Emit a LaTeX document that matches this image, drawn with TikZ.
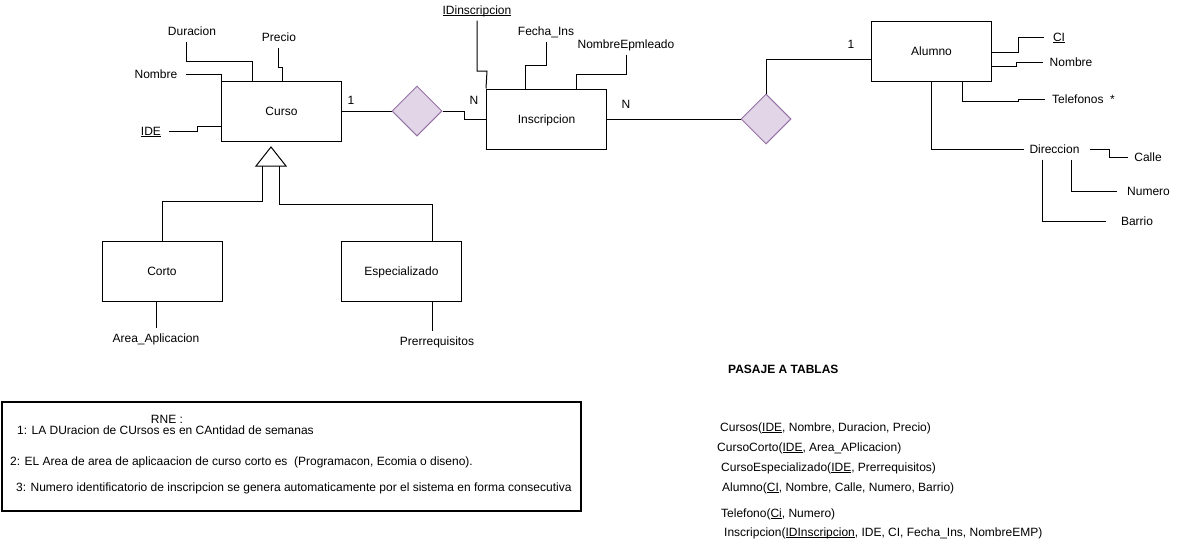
\documentclass[tikz,border=0pt]{standalone}
\usepackage{fontspec}
\setmainfont{Liberation Sans}
\usetikzlibrary{shapes.geometric}

\definecolor{relfill}{HTML}{E1D5E7}
\definecolor{reldraw}{HTML}{9673A6}
\newcommand{\keyattr}[1]{\setbox0\hbox{#1}\rlap{\rule[-1.8pt]{\wd0}{0.8pt}}\box0}
\tikzset{
  entity/.style={draw,line width=1pt,minimum width=120pt,minimum height=60pt,inner sep=0pt,text height=8.6pt,text depth=0pt},
  relation/.style={diamond,draw=reldraw,fill=relfill,line width=1pt,minimum width=50pt,minimum height=50pt,inner sep=0pt},
  attr/.style={inner xsep=3pt,inner ysep=6pt,text height=8.6pt,text depth=0pt},
  card/.style={inner sep=0pt,text height=8.6pt,text depth=0pt},
  note/.style={anchor=west,inner sep=0pt,text height=8.6pt,text depth=0pt},
  link/.style={line width=1pt},
}

\begin{document}
\begin{tikzpicture}[x=1pt,y=-1pt,font=\fontsize{12}{14}\selectfont]
  \useasboundingbox (0,0) rectangle (1179,542);

  % entities and relations
  \node [entity] (curso) at (281.5,111) {Curso};
  \node [entity] (insc) at (546.5,119) {Inscripcion};
  \node [entity] (alumno) at (931.5,51) {Alumno};
  \node [entity] (corto) at (162,271) {Corto};
  \node [entity] (espec) at (401.5,271) {Especializado};
  \node [relation] (rel1) at (417,111) {};
  \node [relation] (rel2) at (766,119) {};

  \draw [link] (curso.east) -- (rel1.west);
  \draw [link] (rel1.east) -- (464,111) |- (insc.west);
  \draw [link] (insc.east) -- (rel2.west);
  \draw [link] (rel2.north) |- (alumno.west |- 0,59);
  \node [card] (c1) at (351,100) {1};
  \node [card] (c2) at (474,100) {N};
  \node [card] (c3) at (626,104) {N};
  \node [card] (c4) at (851,44) {1};

  % Curso attributes
  \node [attr] (durac) at (192,31) {Duracion};
  \node [attr] (precio) at (279,37) {Precio};
  \node [attr] (nomcur) at (156,74) {Nombre};
  \node [attr] (ide) at (151,131) {\keyattr{IDE}};
  \draw [link] (durac.south -| 186,0) |- (252,61) -- (curso.north -| 252,0);
  \draw [link] (precio.south -| 278,0) |- (282,67) -- (curso.north -| 282,0);
  \draw [link] ([xshift=5pt]nomcur.east) -| (curso.north west);
  \draw [link] ([xshift=5pt]ide.east) -- (197,131) |- (curso.west |- 0,126);

  % Inscripcion attributes
  \node [attr] (idins) at (477,10) {\keyattr{IDinscripcion}};
  \node [attr] (fecha) at (546,31) {Fecha\_Ins};
  \node [attr] (nomemp) at (626,44) {NombreEpmleado};
  \draw [link] (idins.south) |- (487,71) -- (insc.north west);
  \draw [link] (fecha.south) |- (525,65) -- (insc.north -| 525,0);
  \draw [link] (nomemp.south) |- (576,74) -- (insc.north -| 576,0);

  % Alumno attributes
  \node [attr] (ci) at (1059,37) {\keyattr{CI}};
  \node [attr] (nomal) at (1071,62) {Nombre};
  \node [attr,anchor=west] (tel) at (1049,99) {Telefonos~~*};
  \node [attr] (dir) at (1054.5,149) {Direccion};
  \node [attr] (calle) at (1148,157) {Calle};
  \node [attr] (numero) at (1148.5,191) {Numero};
  \node [attr] (barrio) at (1137,221) {Barrio};
  \draw [link] (alumno.east |- 0,52) -| (1018,37) -- ([xshift=-6pt]ci.west);
  \draw [link] (alumno.east |- 0,66) -| (1016,62) -- ([xshift=-3pt]nomal.west);
  \draw [link] (alumno.south -| 962,0) |- (1018,101) |- ([xshift=-4pt]tel.west);
  \draw [link] (alumno.south) |- ([xshift=-2pt]dir.west);
  \draw [link] ([xshift=7pt]dir.east) -- (1109,149) |- ([xshift=-3pt]calle.west);
  \draw [link] (dir.south -| 1071,0) |- ([xshift=-7pt]numero.west);
  \draw [link] (dir.south -| 1042,0) |- ([xshift=-12pt]barrio.west);

  % specialization
  \draw [link,fill=white] (256,166) -- (271,147) -- (286,166) -- cycle;
  \coordinate (isaL) at (262,166);
  \coordinate (isaR) at (279,166);
  \draw [link] (isaL) -- ++(0,35) -| (corto.north);
  \draw [link] (isaR) -- ++(0,38) -| (espec.north -| 432,0);
  \node [attr] (area) at (156,338) {Area\_Aplicacion};
  \node [attr] (prer) at (437,341) {Prerrequisitos};
  \draw [link] (corto.south -| 156,0) -- (area.north);
  \draw [link] (espec.south -| 432,0) -- (prer.north -| 432,0);

  % RNE
  \node [draw,line width=2pt,minimum width=579pt,minimum height=109pt,inner sep=0pt] (rne) at (291.5,456.5) {};
  \node [card] (rnet) at (167,419.5) {RNE :};
  \node [note] (r1) at (17,430) {1: LA DUracion de CUrsos es en CAntidad de semanas};
  \node [note] (r2) at (10,461) {2: EL Area de area de aplicaacion de curso corto es~~(Programacon, Ecomia o diseno).};
  \node [note] (r3) at (16,487) {3: Numero identificatorio de inscripcion se genera automaticamente por el sistema en forma consecutiva};

  % tablas
  \node [note,font=\fontsize{12}{14}\selectfont\bfseries] (pasaje) at (728,369) {PASAJE A TABLAS};
  \node [note] (t1) at (720,427) {Cursos(\keyattr{IDE}, Nombre, Duracion, Precio)};
  \node [note] (t2) at (717,447) {CursoCorto(\keyattr{IDE}, Area\_APlicacion)};
  \node [note] (t3) at (721,467) {CursoEspecializado(\keyattr{IDE}, Prerrequisitos)};
  \node [note] (t4) at (722,487) {Alumno(\keyattr{CI}, Nombre, Calle, Numero, Barrio)};
  \node [note] (t5) at (721,513) {Telefono(\keyattr{Ci}, Numero)};
  \node [note] (t6) at (724,532) {Inscripcion(\keyattr{IDInscripcion}, IDE, CI, Fecha\_Ins, NombreEMP)};
\end{tikzpicture}
\end{document}
